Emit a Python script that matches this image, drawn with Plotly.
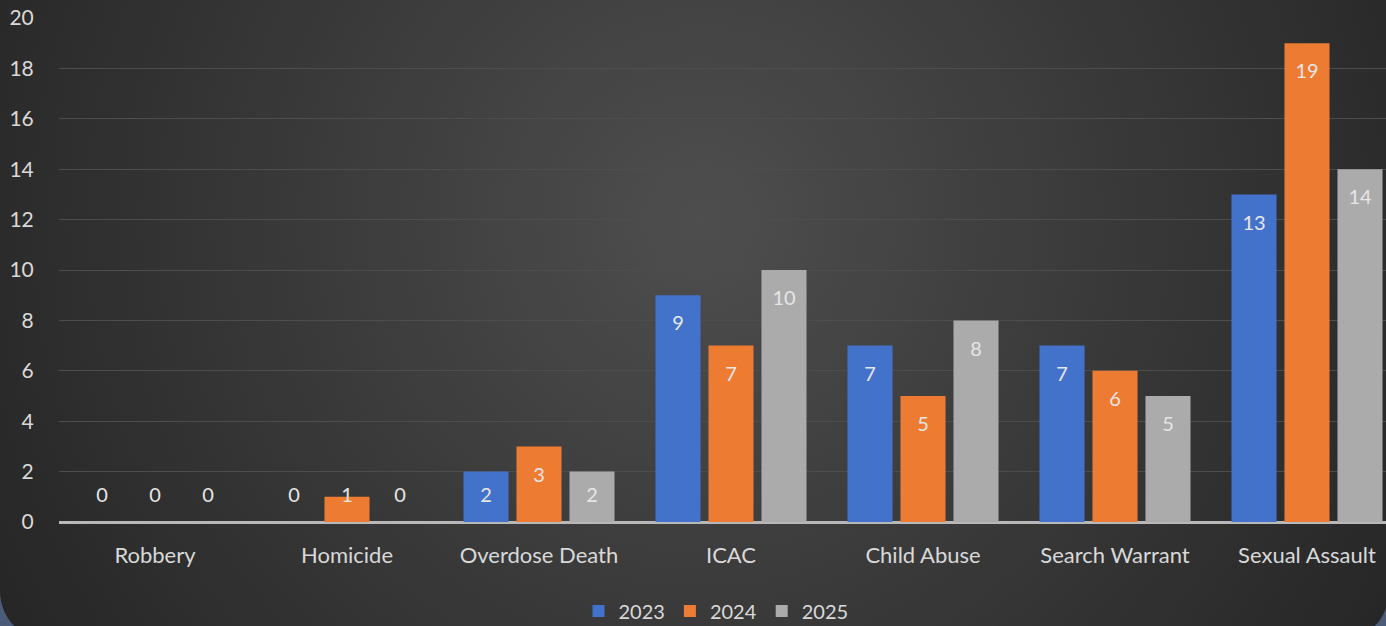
import base64
import numpy as np
import plotly.graph_objects as go

# Case counts by category and year
categories = ["Robbery", "Homicide", "Overdose Death", "ICAC",
              "Child Abuse", "Search Warrant", "Sexual Assault"]
years = ["2023", "2024", "2025"]
counts_2023 = [0, 0, 2, 9, 7, 7, 13]
counts_2024 = [0, 1, 3, 7, 5, 6, 19]
counts_2025 = [0, 0, 2, 10, 8, 5, 14]
y_ticks = [0, 2, 4, 6, 8, 10, 12, 14, 16, 18, 20]

series = [counts_2023, counts_2024, counts_2025]
bar_colors = ["#4372cb", "#ee7b32", "#ababab"]

W, H = 1386, 626
M_L, M_R, M_T, M_B = 59, 0, 18, 104
FONT = "Lato"
TEXT = "#d9d9d9"

# Dark slide panel with a soft radial highlight and rounded lower corners
svg = f"""<svg xmlns='http://www.w3.org/2000/svg' width='{W}' height='{H}' viewBox='0 0 {W} {H}'>
<defs><radialGradient id='g' gradientUnits='userSpaceOnUse' cx='700' cy='220' r='820'>
<stop offset='0' stop-color='#4e4e4e'/><stop offset='0.55' stop-color='#373737'/>
<stop offset='1' stop-color='#252525'/></radialGradient></defs>
<rect x='0' y='0' width='{W}' height='{H}' fill='#4a5c78'/>
<rect x='0' y='-80' width='1389' height='{641 + 80}' rx='50' ry='50' fill='url(#g)'/>
</svg>"""
bg_src = "data:image/svg+xml;base64," + base64.b64encode(svg.encode()).decode()

fig = go.Figure()

for name, vals, color in zip(years, series, bar_colors):
    fig.add_trace(go.Bar(
        x=categories, y=vals, name=name, offsetgroup=name,
        marker=dict(color=color, line=dict(width=0)),
        hoverinfo="x+y+name",
    ))

# Value labels placed just inside the bar tops, kept above the axis for short bars
for name, vals in zip(years, series):
    v = np.array(vals, dtype=float)
    fig.add_trace(go.Scatter(
        x=categories, y=np.maximum(v - 1.2, 1.0), offsetgroup=name,
        mode="text", text=[str(int(a)) for a in v],
        textfont=dict(family=FONT, size=20, color="#e6e6e6"),
        showlegend=False, hoverinfo="skip",
    ))

pw = W - M_L - M_R
ph = H - M_T - M_B

fig.update_layout(
    width=W, height=H,
    margin=dict(l=M_L, r=M_R, t=M_T, b=M_B, autoexpand=False),
    paper_bgcolor="#2e2e2e",
    plot_bgcolor="rgba(0,0,0,0)",
    barmode="group", bargap=0.172, bargroupgap=0.15,
    scattermode="group", scattergap=0.172,
    font=dict(family=FONT, size=20, color=TEXT),
    showlegend=True,
    legend=dict(orientation="h", xref="container", x=716 / W, xanchor="center",
                yref="container", y=(H - 611) / H, yanchor="middle",
                font=dict(family=FONT, size=20, color=TEXT),
                bgcolor="rgba(0,0,0,0)", itemclick=False, traceorder="normal"),
    images=[dict(source=bg_src, xref="paper", yref="paper",
                 x=-M_L / pw, y=1 + M_T / ph, sizex=W / pw, sizey=H / ph,
                 xanchor="left", yanchor="top", sizing="stretch", layer="below")],
    xaxis=dict(range=[-0.5, -0.5 + pw / 192.0], showgrid=False,
               showline=False, zeroline=False,
               ticks="outside", ticklen=14, tickcolor="rgba(0,0,0,0)",
               tickfont=dict(family=FONT, size=22, color=TEXT),
               fixedrange=True),
    yaxis=dict(range=[0, 20], tickvals=y_ticks, showgrid=True,
               gridcolor="#4d4d4d", gridwidth=1.2,
               zeroline=True, zerolinecolor="#b8b8b8", zerolinewidth=2.5,
               showline=False, ticks="outside", ticklen=20,
               tickcolor="rgba(0,0,0,0)",
               tickfont=dict(family=FONT, size=21, color=TEXT),
               fixedrange=True),
)

fig.write_html("out.html")
